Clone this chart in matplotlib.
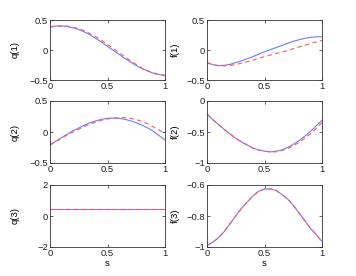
import numpy as np
import matplotlib
matplotlib.use("Agg")
import matplotlib.pyplot as plt

plt.rcParams['font.family'] = ['Liberation Sans', 'DejaVu Sans']
plt.rcParams['axes.unicode_minus'] = True

# sample points along s
s = [0.0, 0.05, 0.1, 0.15, 0.2, 0.25, 0.3, 0.35, 0.4, 0.45, 0.5,
     0.55, 0.6, 0.65, 0.7, 0.75, 0.8, 0.85, 0.9, 0.95, 1.0]

# q values: solid (blue) and dashed (red)
q1_blue = [0.39, 0.40, 0.40, 0.39, 0.37, 0.34, 0.30, 0.25, 0.19, 0.13, 0.06,
           -0.005, -0.07, -0.14, -0.20, -0.26, -0.31, -0.35, -0.39, -0.41, -0.42]
q1_red = [0.38, 0.395, 0.40, 0.40, 0.38, 0.355, 0.32, 0.27, 0.22, 0.16, 0.09,
          0.025, -0.04, -0.11, -0.18, -0.24, -0.30, -0.35, -0.38, -0.41, -0.43]
q2_blue = [-0.21, -0.15, -0.09, -0.035, 0.02, 0.065, 0.11, 0.15, 0.18, 0.205, 0.22,
           0.225, 0.22, 0.205, 0.18, 0.15, 0.11, 0.065, 0.01, -0.06, -0.13]
q2_red = [-0.21, -0.155, -0.10, -0.05, 0.00, 0.045, 0.09, 0.13, 0.16, 0.19, 0.21,
          0.225, 0.23, 0.23, 0.22, 0.20, 0.17, 0.13, 0.08, 0.03, -0.03]
q3_blue = [0.42] * 21
q3_red = [0.42] * 21

# f values
f1_blue = [-0.21, -0.245, -0.26, -0.255, -0.24, -0.21, -0.18, -0.145, -0.11, -0.07, -0.03,
           0.005, 0.04, 0.075, 0.11, 0.145, 0.17, 0.195, 0.21, 0.22, 0.22]
f1_red = [-0.21, -0.245, -0.26, -0.265, -0.26, -0.24, -0.22, -0.195, -0.17, -0.14, -0.11,
          -0.085, -0.06, -0.035, -0.01, 0.02, 0.05, 0.08, 0.11, 0.135, 0.16]
f2_blue = [-0.21, -0.30, -0.38, -0.46, -0.53, -0.60, -0.66, -0.71, -0.76, -0.79, -0.81,
           -0.82, -0.81, -0.79, -0.75, -0.70, -0.64, -0.57, -0.49, -0.40, -0.31]
f2_red = [-0.21, -0.30, -0.38, -0.46, -0.53, -0.60, -0.66, -0.71, -0.76, -0.79, -0.81,
          -0.82, -0.82, -0.80, -0.77, -0.72, -0.67, -0.60, -0.53, -0.44, -0.35]
f3_blue = [-0.99, -0.97, -0.94, -0.90, -0.85, -0.80, -0.75, -0.71, -0.67, -0.64, -0.626,
           -0.625, -0.635, -0.66, -0.69, -0.73, -0.78, -0.83, -0.88, -0.92, -0.965]
f3_red = [-0.99, -0.97, -0.94, -0.90, -0.85, -0.80, -0.75, -0.71, -0.67, -0.64, -0.626,
          -0.625, -0.635, -0.66, -0.69, -0.73, -0.78, -0.83, -0.88, -0.92, -0.965]

panels = [
    ('q(1)', q1_blue, q1_red, (-0.5, 0.5), [-0.5, 0, 0.5], ['\u22120.5', '0', '0.5']),
    ('f(1)', f1_blue, f1_red, (-0.5, 0.5), [-0.5, 0, 0.5], ['\u22120.5', '0', '0.5']),
    ('q(2)', q2_blue, q2_red, (-0.5, 0.5), [-0.5, 0, 0.5], ['\u22120.5', '0', '0.5']),
    ('f(2)', f2_blue, f2_red, (-1, 0), [-1, -0.5, 0], ['\u22121', '\u22120.5', '0']),
    ('q(3)', q3_blue, q3_red, (-2, 2), [-2, 0, 2], ['\u22122', '0', '2']),
    ('f(3)', f3_blue, f3_red, (-1, -0.6), [-1, -0.8, -0.6], ['\u22121', '\u22120.8', '\u22120.6']),
]

lefts = [50 / 356, 207 / 356]
label_x = [-0.26, -0.235]
tops = [20, 101, 185]
bottoms = [80, 163, 247]

fig = plt.figure(figsize=(3.56, 2.76), dpi=100)

for i, (name, yb, yr, ylim, yt, ytl) in enumerate(panels):
    row, col = divmod(i, 2)
    ax = fig.add_axes([lefts[col], 1 - bottoms[row] / 276,
                       115 / 356, (bottoms[row] - tops[row]) / 276])
    ax.plot(s, yb, color='#6b7fff', lw=0.8)
    ax.plot(s, yr, color='#ff5a5a', lw=0.8, ls=(0, (4, 3)))
    ax.set_xlim(0, 1)
    ax.set_ylim(*ylim)
    ax.set_xticks([0, 0.5, 1])
    ax.set_xticklabels(['0', '0.5', '1'])
    ax.set_yticks(yt)
    ax.set_yticklabels(ytl)
    ax.tick_params(direction='in', length=2.5, width=0.5, labelsize=6.8,
                   top=True, right=True, pad=1.5, colors='#222222')
    for sp in ax.spines.values():
        sp.set_linewidth(0.6)
        sp.set_color('#333333')
    ax.set_ylabel(name, fontsize=6.8)
    ax.yaxis.set_label_coords(label_x[col], 0.5)
    if row == 2:
        ax.set_xlabel('s', fontsize=6.8, labelpad=1)

fig.savefig('out.png', dpi=100)
